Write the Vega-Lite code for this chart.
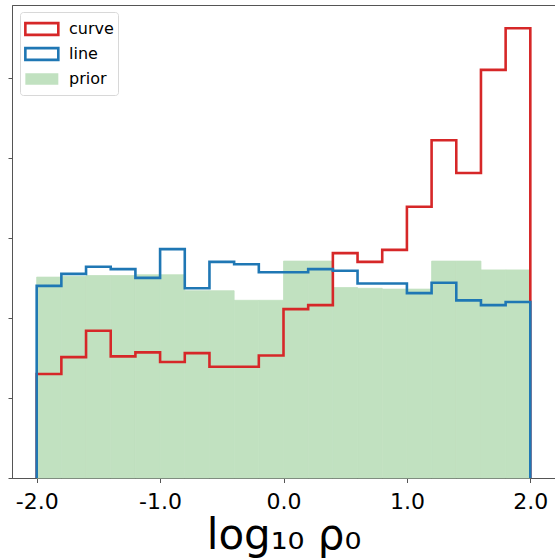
{
  "$schema": "https://vega.github.io/schema/vega-lite/v6.json",
  "width": 543,
  "height": 473,
  "autosize": {"type": "none"},
  "padding": {"left": 12, "top": 5, "right": 0, "bottom": 80},
  "config": {
    "font": "DejaVu Sans",
    "view": {"stroke": "#555", "strokeWidth": 1},
    "legend": {
      "orient": "none",
      "legendX": 8,
      "legendY": 7,
      "title": null,
      "symbolType": "M-1,-0.5H1.83V0.5H-1Z",
      "symbolSize": 543,
      "symbolStrokeWidth": 2.6,
      "labelFontSize": 16,
      "labelColor": "black",
      "labelOffset": 19,
      "rowPadding": -2.3,
      "padding": 4,
      "fillColor": "white",
      "strokeColor": "#d8d8d8",
      "cornerRadius": 3
    }
  },
  "datasets": {
    "prior": [
      {"series": "prior", "x0": -2.0, "x1": -1.8, "density": 0.251},
      {"series": "prior", "x0": -1.8, "x1": -1.6, "density": 0.252},
      {"series": "prior", "x0": -1.6, "x1": -1.4, "density": 0.253},
      {"series": "prior", "x0": -1.4, "x1": -1.2, "density": 0.253},
      {"series": "prior", "x0": -1.2, "x1": -1.0, "density": 0.254},
      {"series": "prior", "x0": -1.0, "x1": -0.8, "density": 0.254},
      {"series": "prior", "x0": -0.8, "x1": -0.6, "density": 0.234},
      {"series": "prior", "x0": -0.6, "x1": -0.4, "density": 0.234},
      {"series": "prior", "x0": -0.4, "x1": -0.2, "density": 0.222},
      {"series": "prior", "x0": -0.2, "x1": 0.0, "density": 0.222},
      {"series": "prior", "x0": 0.0, "x1": 0.2, "density": 0.271},
      {"series": "prior", "x0": 0.2, "x1": 0.4, "density": 0.271},
      {"series": "prior", "x0": 0.4, "x1": 0.6, "density": 0.238},
      {"series": "prior", "x0": 0.6, "x1": 0.8, "density": 0.237},
      {"series": "prior", "x0": 0.8, "x1": 1.0, "density": 0.236},
      {"series": "prior", "x0": 1.0, "x1": 1.2, "density": 0.236},
      {"series": "prior", "x0": 1.2, "x1": 1.4, "density": 0.271},
      {"series": "prior", "x0": 1.4, "x1": 1.6, "density": 0.271},
      {"series": "prior", "x0": 1.6, "x1": 1.8, "density": 0.260},
      {"series": "prior", "x0": 1.8, "x1": 2.0, "density": 0.260}
    ],
    "outline": [
      {"series": "curve", "x": -2.0, "density": 0},
      {"series": "curve", "x": -2.0, "density": 0.130},
      {"series": "curve", "x": -1.8, "density": 0.151},
      {"series": "curve", "x": -1.6, "density": 0.184},
      {"series": "curve", "x": -1.4, "density": 0.152},
      {"series": "curve", "x": -1.2, "density": 0.157},
      {"series": "curve", "x": -1.0, "density": 0.145},
      {"series": "curve", "x": -0.8, "density": 0.156},
      {"series": "curve", "x": -0.6, "density": 0.139},
      {"series": "curve", "x": -0.4, "density": 0.139},
      {"series": "curve", "x": -0.2, "density": 0.153},
      {"series": "curve", "x": 0.0, "density": 0.211},
      {"series": "curve", "x": 0.2, "density": 0.216},
      {"series": "curve", "x": 0.4, "density": 0.281},
      {"series": "curve", "x": 0.6, "density": 0.270},
      {"series": "curve", "x": 0.8, "density": 0.285},
      {"series": "curve", "x": 1.0, "density": 0.339},
      {"series": "curve", "x": 1.2, "density": 0.422},
      {"series": "curve", "x": 1.4, "density": 0.381},
      {"series": "curve", "x": 1.6, "density": 0.510},
      {"series": "curve", "x": 1.8, "density": 0.562},
      {"series": "curve", "x": 2.0, "density": 0},
      {"series": "line", "x": -2.0, "density": 0},
      {"series": "line", "x": -2.0, "density": 0.240},
      {"series": "line", "x": -1.8, "density": 0.255},
      {"series": "line", "x": -1.6, "density": 0.264},
      {"series": "line", "x": -1.4, "density": 0.261},
      {"series": "line", "x": -1.2, "density": 0.250},
      {"series": "line", "x": -1.0, "density": 0.286},
      {"series": "line", "x": -0.8, "density": 0.237},
      {"series": "line", "x": -0.6, "density": 0.270},
      {"series": "line", "x": -0.4, "density": 0.267},
      {"series": "line", "x": -0.2, "density": 0.257},
      {"series": "line", "x": 0.0, "density": 0.257},
      {"series": "line", "x": 0.2, "density": 0.261},
      {"series": "line", "x": 0.4, "density": 0.259},
      {"series": "line", "x": 0.6, "density": 0.243},
      {"series": "line", "x": 0.8, "density": 0.243},
      {"series": "line", "x": 1.0, "density": 0.231},
      {"series": "line", "x": 1.2, "density": 0.244},
      {"series": "line", "x": 1.4, "density": 0.222},
      {"series": "line", "x": 1.6, "density": 0.216},
      {"series": "line", "x": 1.8, "density": 0.220},
      {"series": "line", "x": 2.0, "density": 0}
    ]
  },
  "layer": [
    {
      "data": {"name": "prior"},
      "mark": {"type": "rect", "stroke": "#c1e1c0", "strokeWidth": 0.8},
      "encoding": {
        "x": {
          "field": "x0",
          "type": "quantitative",
          "scale": {"domain": [-2.2, 2.2], "nice": false, "zero": false},
          "axis": {
            "values": [-2, -1, 0, 1, 2],
            "labelExpr": "replace(format(datum.value, '.1f'), '−', '-')",
            "labelFontSize": 22,
            "labelColor": "black",
            "labelPadding": 9,
            "tickSize": 4.5,
            "tickColor": "#555",
            "domainColor": "#555",
            "grid": false,
            "title": "log₁₀ ρ₀",
            "titleFontSize": 42,
            "titleFontWeight": "normal",
            "titleColor": "black",
            "titlePadding": 3
          }
        },
        "x2": {"field": "x1"},
        "y": {
          "field": "density",
          "type": "quantitative",
          "scale": {"domain": [0, 0.591], "nice": false},
          "axis": {
            "values": [0, 0.1, 0.2, 0.3, 0.4, 0.5],
            "labels": false,
            "tickSize": 4,
            "tickColor": "#555",
            "domainColor": "#555",
            "grid": false,
            "title": null
          }
        },
        "y2": {"datum": 0},
        "color": {
          "field": "series",
          "type": "nominal",
          "scale": {
            "domain": ["prior", "curve", "line"],
            "range": ["#c1e1c0", "#d62728", "#1f77b4"]
          },
          "legend": null
        }
      }
    },
    {
      "data": {"name": "outline"},
      "mark": {"type": "line", "interpolate": "step-after", "strokeWidth": 2.6, "strokeJoin": "miter"},
      "encoding": {
        "x": {"field": "x", "type": "quantitative"},
        "y": {"field": "density", "type": "quantitative"},
        "color": {"field": "series", "type": "nominal", "legend": null},
        "strokeDash": {
          "field": "series",
          "type": "nominal",
          "scale": {
            "domain": ["curve", "line", "prior"],
            "range": [[1, 0], [1, 0], [1, 0]]
          },
          "legend": {
            "encode": {
              "symbols": {
                "update": {
                  "fill": {"signal": "datum.value === 'prior' ? '#c1e1c0' : 'transparent'"},
                  "stroke": {"signal": "datum.value === 'curve' ? '#d62728' : datum.value === 'line' ? '#1f77b4' : 'transparent'"},
                  "opacity": {"value": 1}
                }
              }
            }
          }
        },
        "order": {"value": null}
      }
    }
  ]
}
